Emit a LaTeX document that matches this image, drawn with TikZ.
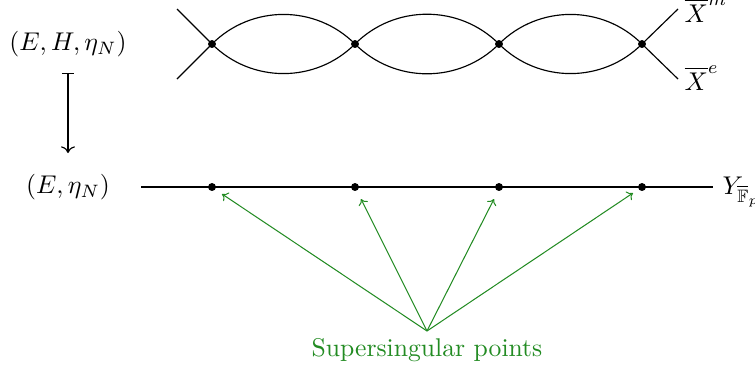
\documentclass[tikz,border=0pt]{standalone}
\usepackage{amsmath,amssymb}
\usetikzlibrary{arrows.meta}
\definecolor{ssgreen}{RGB}{34,139,34}
\begin{document}
\begin{tikzpicture}[x=0.39pt,y=-0.39pt,
  dotn/.style={circle,fill=black,inner sep=0pt,minimum size=3.1pt},
  curve/.style={line width=0.45pt},
  garrow/.style={ssgreen,line width=0.4pt,-{To[length=2.2pt,width=4pt]}}]
\useasboundingbox (0,0) rectangle (755,372);
% top dots
\node[dotn] (t1) at (212,44) {};
\node[dotn] (t2) at (355,44) {};
\node[dotn] (t3) at (499,44) {};
\node[dotn] (t4) at (642,44) {};
% bottom dots
\node[dotn] (b1) at (212,187) {};
\node[dotn] (b2) at (355,187) {};
\node[dotn] (b3) at (499,187) {};
\node[dotn] (b4) at (642,187) {};
% ends
\coordinate (l1) at (177,9);
\coordinate (l2) at (177,79);
\coordinate (r1) at (678,9);
\coordinate (r2) at (678,79);
\coordinate (bl) at (141,187);
\coordinate (br) at (713,187);
\draw[curve] (l1) -- (t1.center) -- (l2);
\draw[curve] (r1) -- (t4.center) -- (r2);
\foreach \a/\b in {t1/t2,t2/t3,t3/t4}{
  \draw[curve] (\a.center) to[out=45,in=135] (\b.center);
  \draw[curve] (\a.center) to[out=-45,in=-135] (\b.center);
}
\draw[curve] (bl) -- (br);
% labels
\node (lab1) at (68,44) {$(E,H,\eta_N)$};
\node (lab2) at (68,187) {$(E,\eta_N)$};
\draw[curve,|->] (68,73) -- (68,153);
\node[anchor=west,inner sep=0pt] (xm) at (684,10) {$\overline{X}^m$};
\node[anchor=west,inner sep=0pt] (xe) at (684,78) {$\overline{X}^e$};
\node[anchor=west,inner sep=0pt] (yf) at (722,192) {$Y_{\overline{\mathbb{F}}_p}$};
% green
\node[ssgreen] (ss) at (427,350) {Supersingular points};
\coordinate (src) at (427,331);
\draw[garrow] (src) -- (222,194);
\draw[garrow] (src) -- (361,199);
\draw[garrow] (src) -- (494,199);
\draw[garrow] (src) -- (633,193);
\end{tikzpicture}
\end{document}
